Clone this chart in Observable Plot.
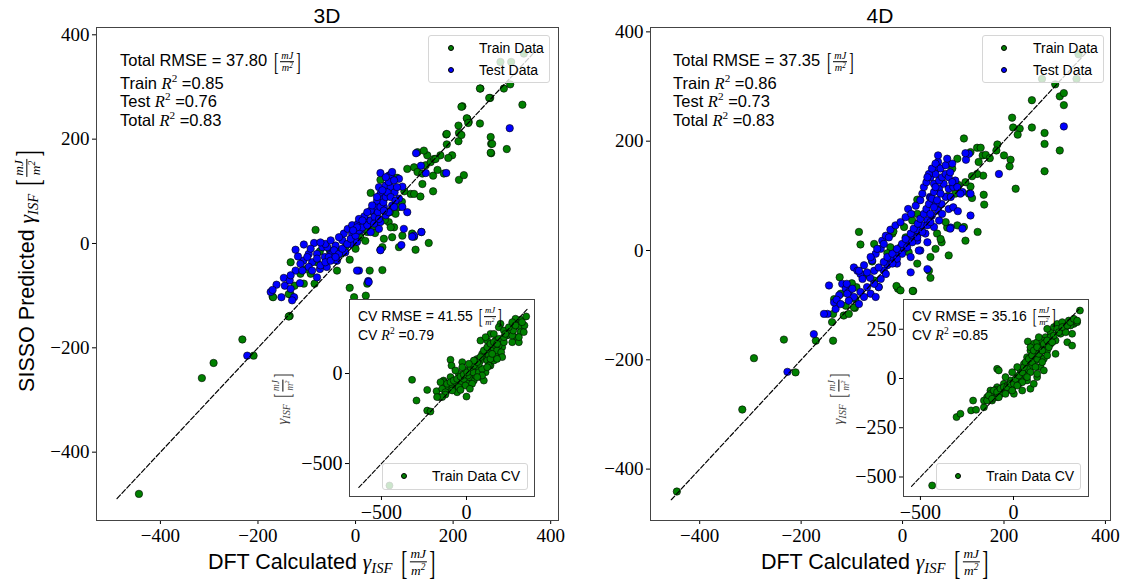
<!DOCTYPE html>
<html><head><meta charset="utf-8">
<script src="https://cdn.jsdelivr.net/npm/d3@7"></script>
<script src="https://cdn.jsdelivr.net/npm/@observablehq/plot@0.6"></script>
<style>
body{margin:0;background:#fff;}
#root{position:relative;width:1123px;height:586px;overflow:hidden;font-family:"Liberation Sans",Arial,sans-serif;color:#000;background:#fff;--serif:"Liberation Serif",serif;}
.abs{position:absolute;white-space:pre;}
.wrap svg{overflow:visible;display:block;background:transparent !important;}
.mi{font-family:var(--serif);font-style:italic;}
.sub{font-size:0.68em;vertical-align:-0.3em;}
.sup{font-size:0.68em;vertical-align:0.55em;font-family:var(--serif);}
.unit{display:inline-flex;align-items:center;vertical-align:middle;font-family:var(--serif);}
.br{font-size:1.55em;line-height:1;transform:scaleX(0.55);display:inline-block;font-weight:normal;}
.frac{display:inline-flex;flex-direction:column;align-items:center;font-size:0.62em;line-height:1.1;font-style:italic;}
.num{border-bottom:0.8px solid #000;padding:0 1px;}
.leg{position:absolute;border:1px solid #d6d6d6;border-radius:3px;background:rgba(255,255,255,0.8);}
.mk{position:absolute;width:6px;height:6px;border-radius:50%;border:0.7px solid #000;box-sizing:border-box;}
.lt{position:absolute;font-size:14px;line-height:14px;}
</style>
</head><body><div id="root"></div>
<script>
// ---------------- data ----------------
const mainTicks = [-400, -200, 0, 200, 400];
const inset3DTicks = [-500, 0];
const inset4DXTicks = [-500, 0];
const inset4DYTicks = [-500, -250, 0, 250];

const parity3D = [-489, 373];
const parity4D = [-456, 367];
const parityCV3D = [-633, 360];
const parityCV4D = [-548, 352];

const stats3D = ["37.80", "0.85", "0.76", "0.83"];
const stats4D = ["37.35", "0.86", "0.73", "0.83"];
const cvStats3D = ["41.55", "0.79"];
const cvStats4D = ["35.16", "0.85"];

const train3D = [[-444,-480],[-315,-258],[-291,-229],[-232,-184],[-209,-215],[-135,-139],[-170,-102],[-133,-98],
[51,122],[31,97],[113,95],[120,95],[133,90],[159,100],[137,114],[159,130],[168,141],[181,134],[212,122],[222,131],
[106,143],[120,146],[127,137],[137,134],[144,150],[154,156],[161,162],[147,169],[127,175],[140,178],[174,169],[164,162],
[186,209],[212,212],[219,263],[229,239],[232,233],[255,230],[211,196],[256,297],[276,279],[304,297],[317,305],[342,266],
[277,204],[278,191],[310,181],[278,173],[85,126],[89,70],[82,57],[68,41],[79,31],[75,12],[58,9],[55,-7],[89,-7],[123,-12],
[150,1],[135,22],[116,19],[120,13],[96,15],[29,-52],[55,-51],[51,-12],[-12,-31],[24,-77],[-12,-85],[-3,-103],[21,-100],
[-38,-52],[-48,-31],[-82,26],[-73,-15],[-53,-13],[-133,-36],[-113,-58],[-92,-58],[-84,-77],[-106,-77],[-125,-81],
[-169,-103],[-137,-97],[-137,-140],[-101,-49],[-79,-36],[-41,-13],[-21,-7],[-3,6],[10,12],[24,22],[34,31],[44,41],[72,31],
[297,348],[319,348],[345,364],[274,279],[217,262],[228,240],[231,231],[211,226],[217,208],[187,210],[187,190],[280,191],
[277,174],[198,169],[190,164],[255,297],[-60,-30],[-30,-20],[0,-10],[20,5],[40,20],[60,45],[70,60],[95,80],[100,100]];

const test3D = [[-222,-215],[-174,-93],[-147,-66],[-145,-81],[-133,-87],[-126,-103],[-130,-109],[-152,-103],[-123,-12],
[-106,-2],[-85,1],[-107,-33],[-89,-36],[-79,-20],[-68,-7],[-63,-26],[-51,-20],[-41,-4],[-27,6],[-24,19],[-16,28],[-7,35],
[5,38],[17,39],[28,44],[38,57],[41,70],[44,82],[51,95],[48,108],[62,111],[72,108],[80,98],[89,86],[96,70],[106,60],[75,73],
[58,86],[58,70],[31,63],[18,52],[7,47],[-7,19],[10,25],[31,22],[48,28],[51,41],[62,54],[99,28],[120,15],[135,22],[89,124],
[96,109],[68,130],[51,135],[124,173],[144,135],[186,135],[51,-13],[7,-52],[26,-72],[-38,-33],[-48,-20],[-10,-1],[3,3],
[-21,-17],[-34,12],[-58,-7],[-79,-29],[-96,-20],[-118,-25],[-96,-45],[-73,-49],[-114,-76],[-79,-65],[-59,-45],[-135,-71],
[-162,-79],[-170,-89],[316,221],[134,149],[116,13],[94,-3],[3,-52],[27,-74],[72,132],
[-55,-26],[-44,-13],[-34,-20],[-27,-10],[-17,-1],[-10,9],[0,15],[7,25],[14,31],[24,35],[31,44],[39,51],[46,60],[51,70],
[57,79],[62,89],[65,98],[55,102],[44,89],[34,73],[24,60],[14,44],[3,31],[-5,25],[72,89],[82,82],[79,70],[68,60],[58,63],
[48,47],[38,38],[68,118],[79,121],[62,127],[75,137],[85,108],[-62,-1],[-51,6],[-72,2],[-92,-10],[-99,-26],[-113,-39],
[-123,-52],[-133,-61],[-109,-52],[-89,-52],[-72,-42],[-62,-36],[-51,-33],[-41,-26]];

const train4D = [[-445,-441],[-316,-291],[-293,-197],[-234,-163],[-211,-223],[-171,-165],[-137,-165],[-139,-131],[-116,-119],
[-94,-105],[-137,-116],[-124,-49],[-109,-67],[-86,34],[-83,11],[-135,-89],[-122,-79],[-96,-104],[-112,-101],[-106,-116],
[-47,-67],[-9,-70],[21,-74],[55,-50],[52,-37],[55,-12],[29,-24],[12,-3],[-20,31],[3,43],[19,55],[29,67],[68,31],[77,15],
[88,42],[85,52],[75,21],[91,-9],[65,3],[108,46],[121,43],[124,18],[148,34],[104,104],[131,104],[137,96],[160,102],[161,84],
[29,93],[98,150],[108,168],[121,205],[134,180],[147,188],[154,188],[158,174],[164,175],[150,162],[172,169],[187,194],
[185,183],[200,174],[213,166],[211,154],[159,137],[147,140],[134,117],[124,125],[137,136],[223,113],[218,225],[231,223],
[216,243],[227,212],[255,225],[255,275],[280,195],[280,215],[280,145],[310,183],[318,266],[310,282],[318,288],[301,304],
[275,314],[343,314],[347,359],[6,24],[-24,6],[-56,12],[-18,35],[-91,-67],[-93,-89],[-56,-55],[-12,-65],[20,-74],[-4,-73],
[-60,-20],[-30,-5],[0,10],[30,30],[50,50],[70,80],[90,100],[110,120],[-100,-60],[-75,-45]];

const test4D = [[-227,-222],[-175,-153],[-148,-116],[-155,-116],[-132,-107],[-135,-95],[-125,-82],[-145,-64],[-119,-61],
[-112,-70],[-96,-31],[-89,-37],[-83,-43],[-79,-52],[-64,-50],[-63,-79],[-53,-85],[-47,-67],[-76,-27],[-60,-18],[-53,-6],
[-43,3],[-40,18],[-33,27],[-24,38],[-14,46],[-4,52],[6,61],[11,76],[17,67],[26,82],[35,92],[39,104],[42,116],[47,125],
[55,134],[65,140],[70,162],[70,174],[52,140],[62,122],[72,113],[81,122],[91,113],[100,116],[104,128],[85,98],[77,85],
[70,73],[58,64],[49,55],[39,46],[29,37],[19,27],[9,18],[-4,6],[-14,-6],[-24,-15],[-30,-27],[-37,-37],[3,3],[16,-12],
[35,0],[49,15],[29,18],[45,31],[62,43],[72,55],[65,85],[54,98],[78,67],[91,76],[100,79],[109,72],[95,42],[134,64],
[118,107],[125,166],[68,153],[55,96],[49,-34],[32,0],[-11,-24],[16,-40],[190,140],[318,227],[131,177],[124,178],
[134,104],[118,40],[94,40],[-110,-61],[-106,-76],[-130,-90],
[-86,-37],[-70,-40],[-56,-37],[-47,-31],[-37,-21],[-30,-12],[-20,-6],[-11,3],[-1,12],[6,21],[16,31],[22,40],[30,49],
[35,58],[42,67],[47,76],[52,85],[58,95],[62,107],[65,116],[72,128],[78,134],[85,140],[91,134],[98,125],[75,104],[68,92],
[62,79],[55,67],[49,46],[39,34],[29,24],[19,15],[9,6],[-1,-6],[-11,-15],[-20,-24],[-33,-43],[-43,-52],[-56,-61],
[-70,-67],[-83,-76],[-96,-85],[-106,-92],[-76,-85],[-86,-98],[-122,-98],[-109,-79],[-99,-70],[-63,-12],[-50,3],
[-37,12],[-27,24],[49,134],[58,150],[65,159],[75,150],[85,156],[94,143],[98,159],[88,168],[108,116],[114,104],[95,98],[55,52]];

const cv3D = [[-453,-622],[-320,-35],[-231,-91],[-294,-150],[-231,-206],[-212,-211],[-176,-98],[-157,-131],[-135,-39],
[-94,76],[-88,44],[-25,63],[-55,-104],[0,-128],[-114,-94],[24,17],[63,35],[82,72],[102,100],[122,128],[151,165],[171,183],
[190,193],[210,146],[122,183],[141,220],[171,109],[82,-20],[43,-39],[4,-48],[-35,-57],[-75,-67],[-114,-76],[-133,-48],
[-94,-20],[-45,-2],[-6,17],[33,44],[63,81],[92,109],[53,-11],[112,7],[141,44],[161,72],[131,100],[161,137],[190,156],
[220,174],[239,211],[259,239],[278,257],[298,267],[318,257],[318,230],[288,202],[308,174],[308,202],[337,230],[341,267],
[318,298],[351,317],[288,304],[200,276],[190,257],[220,239],[269,174],[102,-39],[14,-20],[-153,-48],[-143,-85],
[-124,-104],[-84,-80],[-65,-48],[-16,-30],[8,-11],[39,7],[73,7],[92,26],[73,54],[47,72],[122,72],[141,81],[171,156],
[180,128],[204,118],[220,202],[269,211],[275,239],
[-114,-57],[-94,-48],[-75,-39],[-55,-30],[-35,-17],[-16,-6],[4,7],[24,35],[43,44],[63,63],[82,91],[102,128],[122,146],
[141,165],[161,174],[180,165],[131,44],[92,-11],[63,-20],[33,-57],[-6,-67],[-45,-76],[-84,-94],[-124,-117],[-143,-131],
[-173,-131],[82,183],[112,202],[161,220],[229,220],[249,257],[269,285],[288,267],[327,285],[210,91],[180,81],[151,109],
[122,35],[43,72],[14,54],[-25,35],[-65,17],[-35,-91],[20,-85]];

const cv4D = [[-437,-543],[-306,-196],[-285,-179],[-217,-112],[-228,-162],[-201,-159],[-159,-146],[-115,-112],[-88,49],
[-79,41],[-88,-44],[-52,-27],[-16,-10],[20,7],[38,41],[56,74],[73,108],[91,142],[109,176],[127,184],[145,159],[163,142],
[226,125],[77,188],[172,210],[199,235],[217,261],[235,277],[262,286],[280,261],[289,184],[315,167],[315,227],[324,277],
[297,294],[342,286],[357,345],[181,252],[235,252],[91,58],[118,91],[145,108],[73,-10],[47,-61],[91,-52],[2,-78],[-34,-61],
[-70,-78],[-106,-86],[-124,-61],[-142,-95],[-88,-95],[29,-27],[-7,-52],[56,24],[127,7],[109,-27],[20,58],[-7,32],
[145,58],[181,142],[199,176],[226,193],[253,227],[118,142],[154,193],[95,58],[-43,7],[-124,-78],[-97,-58],[-61,-52],
[-34,-36],[11,-19],[38,-2],[65,15],[73,49],[100,83],[127,100],[163,100],[181,117],[91,159],[136,210],[172,184],
[199,210],[262,244],[280,235],[306,269],
[-159,-112],[-142,-112],[-133,-86],[-106,-61],[-88,-69],[-70,-52],[-52,-44],[-34,-44],[-16,-27],[2,-27],[11,-2],[29,15],
[47,32],[56,58],[65,83],[82,100],[100,117],[109,142],[127,159],[136,125],[154,142],[163,176],[181,193],[190,159],
[208,184],[217,218],[244,235],[262,261],[289,269],[306,286],[324,303],[342,294],[91,32],[73,7],[47,-19],[20,-36],
[-7,-61],[-43,-78],[-79,-95],[-115,-103],[118,58],[154,83],[127,24],[163,41]];

// ---------------- helpers ----------------
const GREEN = "#008000", BLUE = "#0000ff";
const SERIF = "Liberation Serif";
const root = document.getElementById("root");
const pts = a => a.map(([x, y]) => ({x, y}));
const diag = e => e.map(v => ({x: v, y: v}));

function place(node, left, top) {
  const w = document.createElement("div");
  w.className = "abs wrap"; w.style.left = left + "px"; w.style.top = top + "px";
  w.appendChild(node); root.appendChild(w);
}
function html(str, left, top, css = "") {
  const d = document.createElement("div");
  d.className = "abs"; d.style.left = left + "px"; d.style.top = top + "px";
  d.style.cssText += css; d.innerHTML = str; root.appendChild(d); return d;
}
const unit = () => `<span class="unit"><span class="br">[</span><span class="frac"><span class="num">mJ</span><span>m<span style="font-size:0.7em;vertical-align:0.5em">2</span></span></span><span class="br">]</span></span>`;
const gamma = () => `<span class="mi">γ</span><span class="mi sub">ISF</span>`;
const R2 = () => `<span class="mi">R</span><span class="sup">2</span>`;

function axes(xt, yt, fs) {
  const o = {tickSize: 4, label: null, fontFamily: SERIF, fontSize: fs, fill: "#000"};
  return [
    Plot.axisX({...o, ticks: xt, tickPadding: 4}),
    Plot.axisY({...o, ticks: yt, tickPadding: 3})
  ];
}

function mainPlot({train, test, parity, xd, yd, ml, mr, fw}) {
  return Plot.plot({
    width: ml + mr + fw, height: 586,
    marginLeft: ml, marginRight: mr, marginTop: 27, marginBottom: 66,
    x: {domain: xd}, y: {domain: yd},
    style: {background: "transparent", color: "#000"},
    marks: [
      ...axes(mainTicks, mainTicks, 19),
      Plot.frame({stroke: "#444", strokeWidth: 1}),
      Plot.dot(pts(train), {x: "x", y: "y", r: 3.7, fill: GREEN, stroke: "#000", strokeWidth: 0.6}),
      Plot.dot(pts(test), {x: "x", y: "y", r: 3.7, fill: BLUE, stroke: "#000", strokeWidth: 0.6}),
      Plot.line(diag(parity), {x: "x", y: "y", stroke: "#000", strokeWidth: 1.2, strokeDasharray: "5,2.2"})
    ]
  });
}
function insetPlot({data, parity, xd, yd, xt, yt, w, ml, mr}) {
  return Plot.plot({
    width: w, height: 240, marginLeft: ml, marginRight: mr, marginTop: 9, marginBottom: 34,
    x: {domain: xd}, y: {domain: yd},
    style: {background: "transparent", color: "#000"},
    marks: [
      Plot.frame({fill: "white", stroke: "#444", strokeWidth: 1}),
      ...axes(xt, yt, 20),
      Plot.dot(pts(data), {x: "x", y: "y", r: 3.5, fill: GREEN, stroke: "#000", strokeWidth: 0.6}),
      Plot.line(diag(parity), {x: "x", y: "y", stroke: "#000", strokeWidth: 1.1, strokeDasharray: "4.5,2"})
    ]
  });
}

// ---------------- main panels ----------------
place(mainPlot({train: train3D, test: test3D, parity: parity3D, xd: [-531, 416], yd: [-531, 414], ml: 96, mr: 2, fw: 462}), 0, 0);
place(mainPlot({train: train4D, test: test4D, parity: parity4D, xd: [-497, 410], yd: [-494, 408], ml: 90, mr: 13, fw: 460}), 560, 0);

// ---------------- insets ----------------
place(insetPlot({data: cv3D, parity: parityCV3D, xd: [-688, 400], yd: [-683, 411], xt: inset3DTicks, yt: inset3DTicks, w: 240, ml: 49, mr: 6}), 300, 290);
place(insetPlot({data: cv4D, parity: parityCV4D, xd: [-591, 403], yd: [-599, 401], xt: inset4DXTicks, yt: inset4DYTicks, w: 245, ml: 53, mr: 7}), 850, 290);

// ---------------- titles & axis labels ----------------
for (const [t, cx] of [["3D", 327], ["4D", 880]]) {
  html(t, cx, 16, "font-size:21px;transform:translate(-50%,-50%);");
  html(`DFT Calculated ${gamma()} ${unit()}`, cx - 4, 563, "font-size:21.5px;transform:translate(-50%,-50%);");
}
html(`SISSO Predicted ${gamma()} ${unit()}`, 28, 270, "font-size:21.5px;transform:translate(-50%,-50%) rotate(-90deg);");
for (const cx of [283, 839]) {
  html(`${gamma()} ${unit()}`, cx, 398, "font-size:15px;color:#444;transform:translate(-50%,-50%) rotate(-90deg);");
}

// ---------------- stats text ----------------
function statsBlock(s, left) {
  const rows = [`Total RMSE = ${s[0]} ${unit()}`, `Train ${R2()} =${s[1]}`, `Test ${R2()} =${s[2]}`, `Total ${R2()} =${s[3]}`];
  const ys = [62, 83, 101, 120];
  rows.forEach((r, i) => html(r, left, ys[i], "font-size:16.5px;transform:translateY(-50%);"));
}
statsBlock(stats3D, 120);
statsBlock(stats4D, 673);
function cvBlock(s, left) {
  html(`CV RMSE = ${s[0]} ${unit()}`, left, 317, "font-size:14px;transform:translateY(-50%);");
  html(`CV ${R2()} =${s[1]}`, left, 335, "font-size:14px;transform:translateY(-50%);");
}
cvBlock(cvStats3D, 358);
cvBlock(cvStats4D, 912);

// ---------------- legends ----------------
function legend(left, top, w, h, items) {
  const b = document.createElement("div");
  b.className = "leg"; b.style.left = left + "px"; b.style.top = top + "px";
  b.style.width = w + "px"; b.style.height = h + "px";
  items.forEach(([label, color, mx, tx, y]) => {
    const m = document.createElement("div"); m.className = "mk";
    m.style.background = color; m.style.left = (mx - 3) + "px"; m.style.top = (y - 3) + "px"; b.appendChild(m);
    const t = document.createElement("div"); t.className = "lt"; t.textContent = label;
    t.style.left = tx + "px"; t.style.top = (y - 7) + "px"; b.appendChild(t);
  });
  root.appendChild(b);
}
legend(428, 35, 120, 46, [["Train Data", GREEN, 22, 50, 12], ["Test Data", BLUE, 22, 50, 34]]);
legend(982, 35, 120, 46, [["Train Data", GREEN, 21, 50, 12], ["Test Data", BLUE, 21, 50, 34]]);
legend(382, 463, 144, 25, [["Train Data CV", GREEN, 21, 49, 12]]);
legend(936, 463, 143, 25, [["Train Data CV", GREEN, 21, 49, 12]]);
</script></body></html>
